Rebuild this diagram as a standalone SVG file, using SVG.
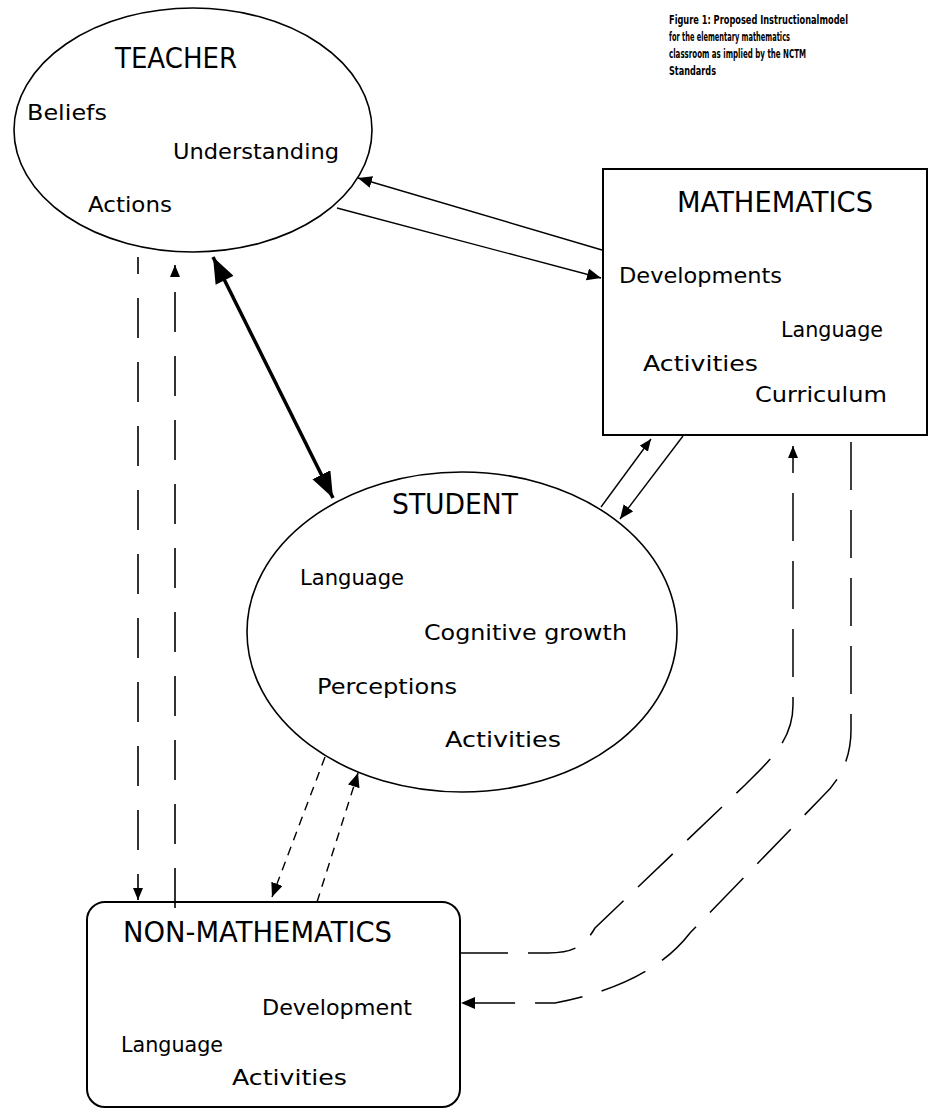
<svg xmlns="http://www.w3.org/2000/svg" width="930" height="1110" viewBox="0 0 930 1110">
<style>
.shape{fill:none;stroke:#000;stroke-width:1.6}
.box{fill:none;stroke:#000;stroke-width:2}
.hdr{font-family:"DejaVu Sans","Liberation Sans",sans-serif;font-size:28px;fill:#000}
.lbl{font-family:"DejaVu Sans","Liberation Sans",sans-serif;font-size:21px;fill:#000}
.cap{font-family:"DejaVu Sans","Liberation Sans",sans-serif;font-size:12px;font-weight:bold;fill:#000}
.c{fill:none;stroke:#000;stroke-width:1.4}
.thick{fill:none;stroke:#000;stroke-width:3.5}
.dl{fill:none;stroke:#000;stroke-width:1.6;stroke-dasharray:40 24}
.dc{fill:none;stroke:#000;stroke-width:1.5;stroke-dasharray:48 20}
.ds{fill:none;stroke:#000;stroke-width:1.4;stroke-dasharray:9 7}
</style>
<defs>
<marker id="ah" markerUnits="userSpaceOnUse" markerWidth="16" markerHeight="14" refX="14" refY="6" orient="auto">
<path d="M0,0 L14,6 L0,12 Z" fill="#000"/>
</marker>
<marker id="ahs" markerUnits="userSpaceOnUse" markerWidth="14" markerHeight="12" refX="12" refY="5" orient="auto">
<path d="M0,0 L12,5 L0,10 Z" fill="#000"/>
</marker>
<marker id="ahb" markerUnits="userSpaceOnUse" markerWidth="28" markerHeight="22" refX="26" refY="10" orient="auto">
<path d="M0,0 L26,10 L0,20 Z" fill="#000"/>
</marker>
<marker id="ahbs" markerUnits="userSpaceOnUse" markerWidth="28" markerHeight="22" refX="0" refY="10" orient="auto">
<path d="M26,0 L0,10 L26,20 Z" fill="#000"/>
</marker>
</defs>
<g id="caption">
<text class="cap" x="669" y="24" textLength="179" lengthAdjust="spacingAndGlyphs">Figure 1:  Proposed Instructionalmodel</text>
<text class="cap" x="669" y="41" textLength="121" lengthAdjust="spacingAndGlyphs">for the elementary mathematics</text>
<text class="cap" x="669" y="58" textLength="137" lengthAdjust="spacingAndGlyphs">classroom as implied by the NCTM</text>
<text class="cap" x="669" y="75" textLength="47" lengthAdjust="spacingAndGlyphs">Standards</text>
</g>
<g id="teacher">
<ellipse class="shape" cx="193" cy="130" rx="179" ry="122"/>
<text class="hdr" x="115" y="68" textLength="122" lengthAdjust="spacingAndGlyphs">TEACHER</text>
<text class="lbl" x="27" y="120" textLength="80" lengthAdjust="spacingAndGlyphs">Beliefs</text>
<text class="lbl" x="173" y="159" textLength="166" lengthAdjust="spacingAndGlyphs">Understanding</text>
<text class="lbl" x="88" y="212" textLength="84" lengthAdjust="spacingAndGlyphs">Actions</text>
</g>
<g id="mathematics">
<rect class="box" x="603" y="169" width="324" height="266"/>
<text class="hdr" x="677" y="212" textLength="196" lengthAdjust="spacingAndGlyphs">MATHEMATICS</text>
<text class="lbl" x="619" y="283" textLength="163" lengthAdjust="spacingAndGlyphs">Developments</text>
<text class="lbl" x="781" y="337" textLength="102" lengthAdjust="spacingAndGlyphs">Language</text>
<text class="lbl" x="643" y="371" textLength="115" lengthAdjust="spacingAndGlyphs">Activities</text>
<text class="lbl" x="755" y="402" textLength="132" lengthAdjust="spacingAndGlyphs">Curriculum</text>
</g>
<g id="student">
<ellipse class="shape" cx="462" cy="632" rx="215" ry="160"/>
<text class="hdr" x="392" y="514" textLength="126" lengthAdjust="spacingAndGlyphs">STUDENT</text>
<text class="lbl" x="300" y="585" textLength="104" lengthAdjust="spacingAndGlyphs">Language</text>
<text class="lbl" x="424" y="640" textLength="203" lengthAdjust="spacingAndGlyphs">Cognitive growth</text>
<text class="lbl" x="317" y="694" textLength="140" lengthAdjust="spacingAndGlyphs">Perceptions</text>
<text class="lbl" x="445" y="747" textLength="116" lengthAdjust="spacingAndGlyphs">Activities</text>
</g>
<g id="non-mathematics">
<rect class="box" x="87" y="902" width="373" height="205" rx="18" ry="18"/>
<text class="hdr" x="123" y="942" textLength="269" lengthAdjust="spacingAndGlyphs">NON-MATHEMATICS</text>
<text class="lbl" x="262" y="1015" textLength="150" lengthAdjust="spacingAndGlyphs">Development</text>
<text class="lbl" x="121" y="1052" textLength="102" lengthAdjust="spacingAndGlyphs">Language</text>
<text class="lbl" x="232" y="1085" textLength="115" lengthAdjust="spacingAndGlyphs">Activities</text>
</g>
<g id="connectors">
<line class="c" x1="602" y1="250" x2="358" y2="178" marker-end="url(#ah)"/>
<line class="c" x1="337" y1="208" x2="601" y2="278" marker-end="url(#ah)"/>
<line class="thick" x1="213" y1="257" x2="333" y2="498" marker-start="url(#ahbs)" marker-end="url(#ahb)"/>
<line class="c" x1="601" y1="507" x2="651" y2="439" marker-end="url(#ahs)"/>
<line class="c" x1="683" y1="436" x2="620" y2="519" marker-end="url(#ah)"/>
<path class="dl" d="M138,257 V900" stroke-dashoffset="23" marker-end="url(#ahs)"/>
<path class="dl" d="M175,908 V265" marker-end="url(#ahs)"/>
<path class="ds" d="M325,757 L272,897" marker-end="url(#ah)"/>
<path class="ds" d="M317,902 L358,773" marker-end="url(#ah)"/>
<path class="dc" d="M460,953 H548 C575,953 585,945 595,928 L745,785 C770,760 793,740 793,705 V446" marker-end="url(#ahs)"/>
<path class="dc" d="M851,442 V730 Q851,770 822,797 L690,933 Q650,985 555,1003 H461" marker-end="url(#ah)"/>
</g>
</svg>
